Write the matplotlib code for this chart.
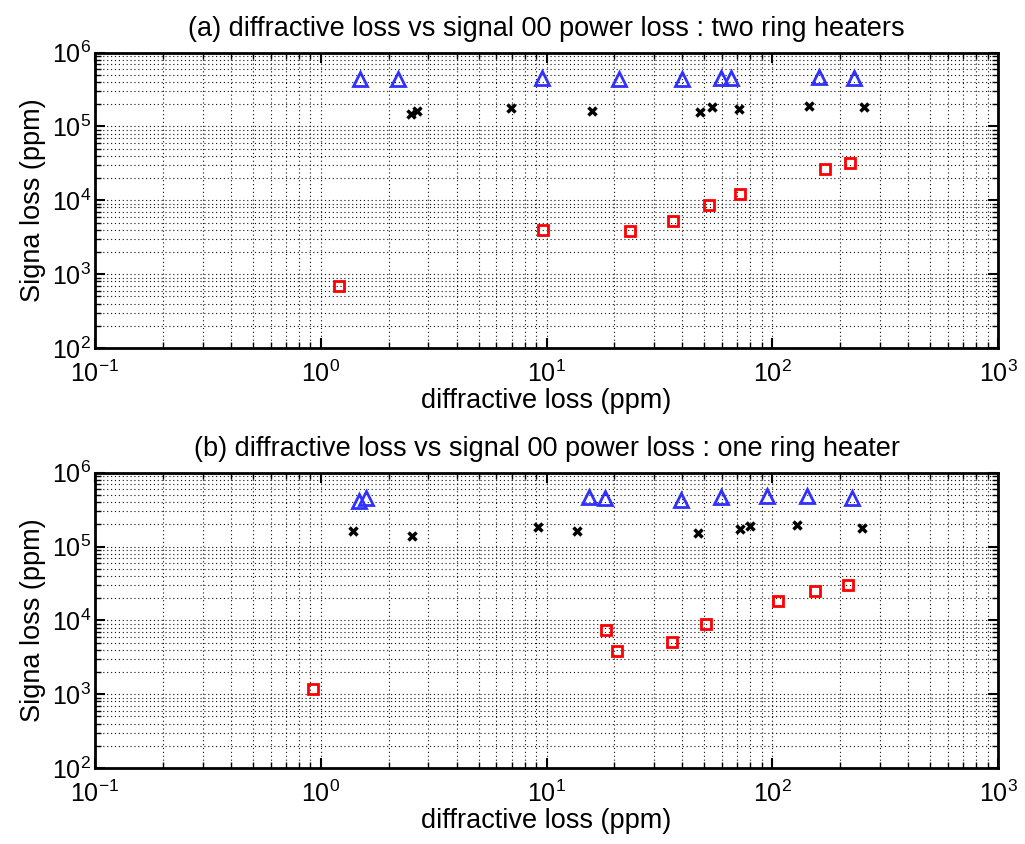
import matplotlib
matplotlib.use("Agg")
import matplotlib.pyplot as plt
import numpy as np
from matplotlib.ticker import LogLocator, NullFormatter

plt.rcParams['font.family'] = ['Liberation Sans', 'DejaVu Sans']
plt.rcParams['mathtext.fontset'] = 'custom'
plt.rcParams['mathtext.rm'] = 'Liberation Sans'

# (a) two ring heaters
a_tri_x = [1.49, 2.2, 9.5, 20.9, 40, 59, 65.4, 161, 230]
a_tri_y = [4.36e5, 4.36e5, 4.5e5, 4.36e5, 4.36e5, 4.58e5, 4.58e5, 4.7e5, 4.58e5]
a_crs_x = [2.51, 2.66, 6.93, 15.9, 47.9, 54, 71.2, 145, 256]
a_crs_y = [1.48e5, 1.62e5, 1.8e5, 1.62e5, 1.56e5, 1.84e5, 1.73e5, 1.91e5, 1.82e5]
a_sq_x = [1.2, 9.6, 23.5, 36.5, 52.6, 72, 172, 221]
a_sq_y = [690, 3960, 3800, 5300, 8700, 1.23e4, 2.65e4, 3.23e4]

# (b) one ring heater
b_tri_x = [1.48, 1.58, 15.5, 18.1, 39.3, 59, 94.6, 143, 225]
b_tri_y = [4.18e5, 4.5e5, 4.73e5, 4.5e5, 4.27e5, 4.64e5, 4.83e5, 4.87e5, 4.5e5]
b_crs_x = [1.39, 2.53, 9.18, 13.7, 46.9, 71.6, 79.4, 129, 250]
b_crs_y = [1.62e5, 1.4e5, 1.84e5, 1.62e5, 1.51e5, 1.75e5, 1.9e5, 1.94e5, 1.78e5]
b_sq_x = [0.923, 18.3, 20.5, 35.8, 50.8, 106, 154.5, 216]
b_sq_y = [1170, 7390, 3800, 5030, 9000, 1.85e4, 2.52e4, 3.03e4]

titles = ['(a) diffractive loss vs signal 00 power loss : two ring heaters',
          '(b) diffractive loss vs signal 00 power loss : one ring heater']

fig = plt.figure(figsize=(10.25, 8.44), dpi=100)
ax1 = fig.add_axes([0.0927, 0.5877, 0.881, 0.3499])
ax2 = fig.add_axes([0.0927, 0.0900, 0.881, 0.3499])

sets = [(ax1, a_tri_x, a_tri_y, a_crs_x, a_crs_y, a_sq_x, a_sq_y, titles[0]),
        (ax2, b_tri_x, b_tri_y, b_crs_x, b_crs_y, b_sq_x, b_sq_y, titles[1])]

for ax, tx, ty, cx, cy, sx, sy, title in sets:
    ax.set_xscale('log')
    ax.set_yscale('log')
    ax.plot(tx, ty, '^', ms=10.5, mfc='none', mec='#3030ff', mew=2, ls='none')
    ax.plot(cx, cy, 'x', ms=5.5, color='black', mew=2.5, ls='none')
    ax.plot(sx, sy, 's', ms=7, mfc='none', mec='#ff0000', mew=2, ls='none')
    ax.set_xlim(0.1, 1000)
    ax.set_ylim(100, 1e6)
    ax.xaxis.set_major_locator(LogLocator(base=10, numticks=10))
    ax.yaxis.set_major_locator(LogLocator(base=10, numticks=10))
    ax.xaxis.set_minor_locator(LogLocator(base=10, subs=np.arange(2, 10), numticks=20))
    ax.yaxis.set_minor_locator(LogLocator(base=10, subs=np.arange(2, 10), numticks=20))
    ax.xaxis.set_minor_formatter(NullFormatter())
    ax.yaxis.set_minor_formatter(NullFormatter())
    ax.grid(True, which='both', color='#111111', lw=0.8, dashes=(1, 2.5))
    ax.tick_params(which='both', direction='in', top=True, right=True, labelsize=18)
    ax.tick_params(axis='x', which='major', pad=9)
    ax.tick_params(axis='y', which='major', pad=3)
    ax.tick_params(which='major', length=7, width=1.5)
    ax.tick_params(which='minor', length=4, width=1)
    for sp in ax.spines.values():
        sp.set_linewidth(2)
    ax.set_xlabel('diffractive loss (ppm)', fontsize=19.5, labelpad=1)
    ax.set_ylabel('Signa loss (ppm)', fontsize=19.5, labelpad=4)
    ax.set_title(title, fontsize=19.5, pad=12)

fig.savefig('out.png', dpi=100)
